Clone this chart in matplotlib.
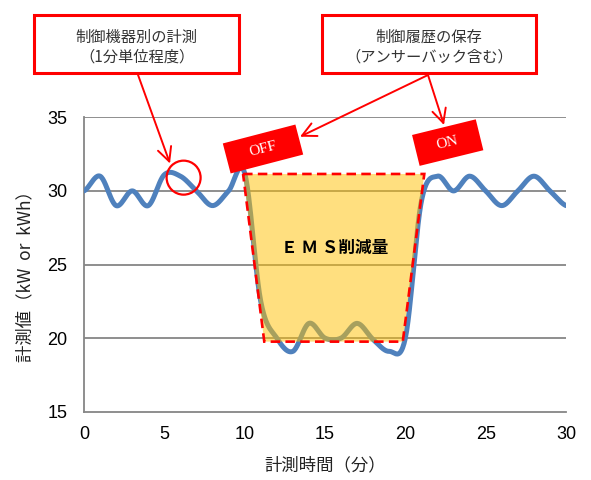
import numpy as np
import matplotlib
matplotlib.use("Agg")
import matplotlib.pyplot as plt
from matplotlib.patches import Polygon, Rectangle, Ellipse, FancyArrowPatch

# ---------------- data ----------------
minutes = list(range(0, 31))
values = [30, 31, 29, 30, 29, 31.1, 31.0, 30, 29, 30,
          31.2, 22.5, 20.0, 19.1, 21, 20, 20, 21, 19.9, 19.1,
          20.0, 29.3, 31, 30, 31, 30, 29, 30, 31, 30, 29]
ems_x = [9.9, 21.18, 19.84, 11.22]
ems_y = [31.15, 31.15, 19.76, 19.76]
xticks = [0, 5, 10, 15, 20, 25, 30]
yticks = [15, 20, 25, 30, 35]
xlabel = "計測時間（分）"
ylabel = "計測値（kW  or  kWh）"
box1_lines = ["制御機器別の計測", "（1分単位程度）"]
box2_lines = ["制御履歴の保存", "（アンサーバック含む）"]
ems_label = "Ｅ Ｍ Ｓ削減量"

CJK = ["Noto Sans CJK JP", "DejaVu Sans"]
W, H = 591, 480


def catmull_rom(x, y, n=24):
    x = np.asarray(x, float)
    y = np.asarray(y, float)
    xs, ys = [], []
    N = len(x)
    for i in range(N - 1):
        p0 = y[i - 1] if i > 0 else y[i]
        p3 = y[i + 2] if i + 2 < N else y[i + 1]
        p1, p2 = y[i], y[i + 1]
        m1 = (p2 - p0) / 2.0
        m2 = (p3 - p1) / 2.0
        t = np.linspace(0, 1, n, endpoint=(i == N - 2))
        h00 = 2 * t**3 - 3 * t**2 + 1
        h10 = t**3 - 2 * t**2 + t
        h01 = -2 * t**3 + 3 * t**2
        h11 = t**3 - t**2
        xs.append(x[i] + t * (x[i + 1] - x[i]))
        ys.append(h00 * p1 + h10 * m1 + h01 * p2 + h11 * m2)
    return np.concatenate(xs), np.concatenate(ys)


def P(px, py):
    return (px / W, 1 - py / H)


fig = plt.figure(figsize=(W / 100, H / 100), dpi=100)
ax = fig.add_axes([84 / W, 1 - 411.7 / H, (566 - 84) / W, (411.7 - 117.3) / H])

grid_c = "#868686"
ax.set_xlim(0, 30)
ax.set_ylim(15, 35)
ax.set_xticks(xticks)
ax.set_yticks(yticks)
for yv in yticks[1:]:
    ax.axhline(yv, color=grid_c, lw=1.3, zorder=1)
for s in ["top", "right"]:
    ax.spines[s].set_visible(False)
for s in ["left", "bottom"]:
    ax.spines[s].set_color(grid_c)
    ax.spines[s].set_linewidth(1.3)
ax.tick_params(length=0, labelsize=13, labelcolor="black")
ax.tick_params(axis="y", pad=12)
ax.tick_params(axis="x", pad=10)
for lab in ax.get_xticklabels() + ax.get_yticklabels():
    lab.set_family("Liberation Sans")

sx, sy = catmull_rom(minutes, values)
ax.plot(sx, sy, color="#4F81BD", lw=3.6, solid_capstyle="round", zorder=3)

ems = Polygon(list(zip(ems_x, ems_y)), closed=True, facecolor="#FFC000",
              alpha=0.5, edgecolor="none", zorder=4)
ax.add_patch(ems)
outline = Polygon(list(zip(ems_x, ems_y)), closed=True, facecolor="none",
                  edgecolor="#FF0000", lw=1.9, linestyle=(0, (3.6, 2.0)), zorder=5)
ax.add_patch(outline)
ax.text(15.6, 26.1, ems_label, ha="center", va="center", fontsize=12,
        fontweight="bold", family=CJK, zorder=6)

ax.add_patch(Ellipse((6.2, 30.9), 34 / 16.07, 34 / 14.72, facecolor="none",
                     edgecolor="#FF0000", lw=1.6, zorder=6))

# axis labels
fig.text(*P(325, 465), xlabel, ha="center", va="center", fontsize=12.5,
         family=CJK, color="#222222")
fig.text(*P(25, 272), ylabel, ha="center", va="center", fontsize=12.5,
         family=CJK, rotation=90, color="#222222")

# annotation boxes
for (x0, x1, lines) in [(34, 239, box1_lines), (322, 536, box2_lines)]:
    y0, y1 = 15, 73
    fig.add_artist(Rectangle(P(x0, y1), (x1 - x0) / W, (y1 - y0) / H,
                             transform=fig.transFigure, facecolor="white",
                             edgecolor="#FF0000", lw=2.2, zorder=10))
    cx = (x0 + x1) / 2
    for ly, txt in zip([37, 57], lines):
        fig.text(*P(cx, ly), txt, ha="center", va="center", fontsize=11,
                 family=CJK, color="#333333", zorder=11)

# arrows
for (a, b) in [((137.7, 74), (170, 163.5)),
               ((428, 75), (300, 136.7)),
               ((428, 75), (444, 125))]:
    fig.add_artist(FancyArrowPatch(P(*a), P(*b), transform=fig.transFigure,
                                   arrowstyle="->,head_length=1.0,head_width=0.5",
                                   mutation_scale=10, color="#FF0000", lw=1.4,
                                   shrinkA=0, shrinkB=0, zorder=12))

# rotated OFF / ON tags
def tag(cx, cy, w, h, ang, label):
    a = np.deg2rad(ang)
    u = np.array([np.cos(a), -np.sin(a)])  # pixel coords (y down)
    v = np.array([np.sin(a), np.cos(a)])
    c = np.array([cx, cy])
    pts = [c - u * w / 2 - v * h / 2, c + u * w / 2 - v * h / 2,
           c + u * w / 2 + v * h / 2, c - u * w / 2 + v * h / 2]
    fig.add_artist(Polygon([P(*p) for p in pts], closed=True,
                           transform=fig.transFigure, facecolor="#FF0000",
                           edgecolor="none", zorder=13))
    fig.text(*P(cx, cy), label, ha="center", va="center", rotation=ang,
             color="white", fontsize=11, family="Liberation Serif", zorder=14,
             rotation_mode="anchor")

tag(263, 149, 75, 31, 14.6, "OFF")
tag(447.7, 142.6, 65.6, 31.8, 13.8, "ON")

fig.savefig("out.png", dpi=100)
